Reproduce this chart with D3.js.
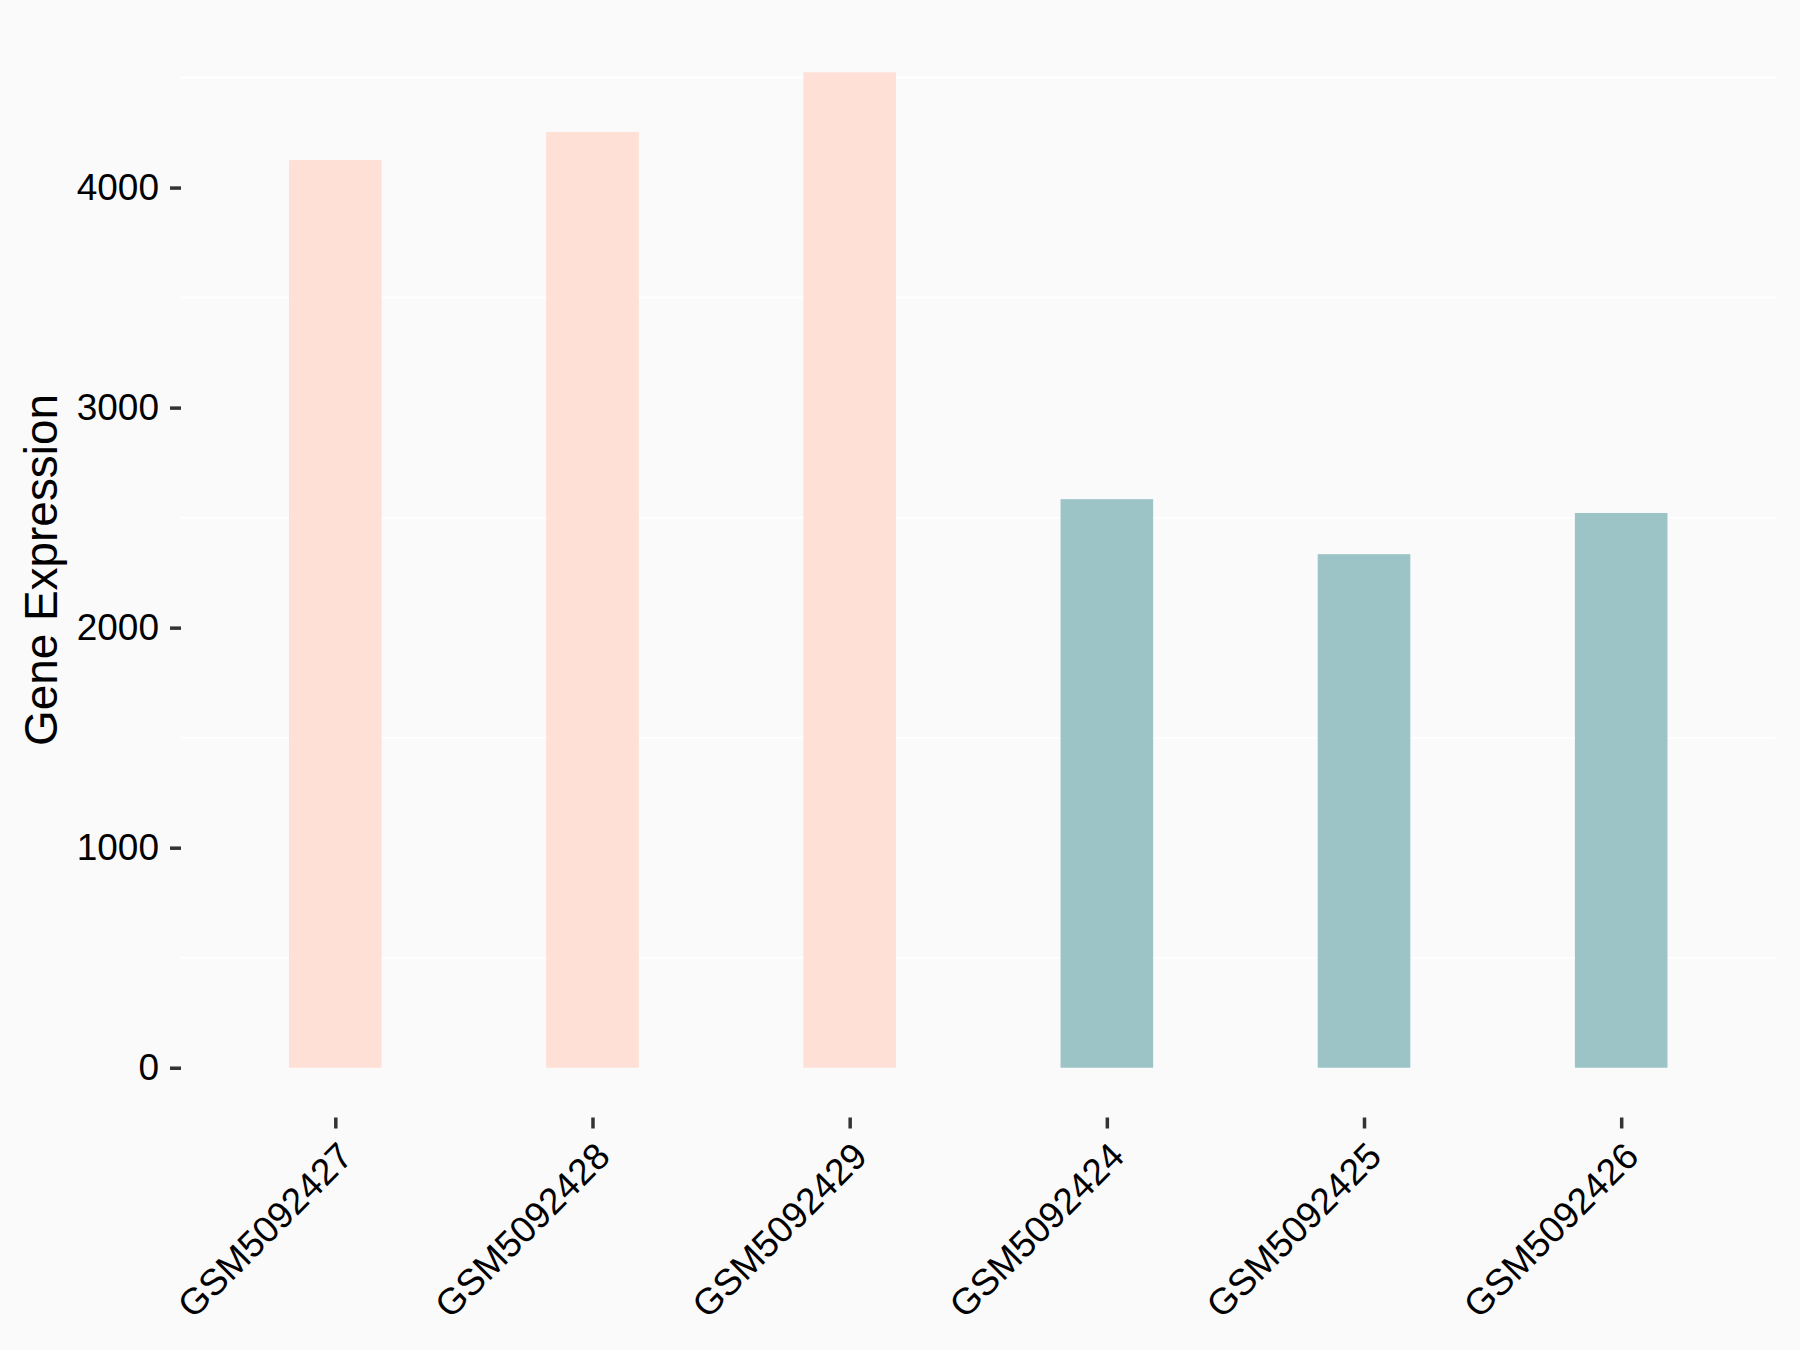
<!DOCTYPE html>
<html>
<head>
<meta charset="utf-8">
<script src="https://cdn.jsdelivr.net/npm/d3@7"></script>
<style>
  html, body { margin: 0; padding: 0; background: #FAFAFA; }
  svg { display: block; }
  text { font-family: "Liberation Sans", Arial, sans-serif; }
</style>
</head>
<body>
<div id="chart-area"></div>
<script>
// data
var samples = ['GSM5092427', 'GSM5092428', 'GSM5092429', 'GSM5092424', 'GSM5092425', 'GSM5092426'];
var expression = [4125, 4253, 4524, 2584, 2334, 2521];
var group = ['A', 'A', 'A', 'B', 'B', 'B'];
var yTicks = [0, 1000, 2000, 3000, 4000];
var yMinor = [500, 1500, 2500, 3500, 4500];

var W = 1800, H = 1350;
var panel = { left: 181, right: 1775.5, top: 22.5, bottom: 1117.5 };

var svg = d3.select('#chart-area').append('svg')
    .attr('width', W)
    .attr('height', H);

svg.append('rect')
    .attr('width', W)
    .attr('height', H)
    .attr('fill', '#FAFAFA');

var data = samples.map(function(s, i) {
  return { sample: s, value: expression[i], group: group[i] };
});

// x scale, like ggplot discrete (0.6 step on each side)
var x = d3.scalePoint()
    .domain(samples)
    .range([panel.left, panel.right])
    .padding(0.6);

var barW = x.step() * 0.36;

// y scale with 5% expansion
var maxV = d3.max(expression);
var pad = maxV * 0.05;
var y = d3.scaleLinear()
    .domain([0 - pad, maxV + pad])
    .range([panel.bottom, panel.top]);

var color = d3.scaleOrdinal()
    .domain(['A', 'B'])
    .range(['#FEE0D6', '#9CC4C7']);

// minor grid lines
svg.append('g')
    .selectAll('line')
    .data(yMinor)
    .enter()
    .append('line')
    .attr('x1', panel.left)
    .attr('x2', panel.right)
    .attr('y1', function(d){ return y(d); })
    .attr('y2', function(d){ return y(d); })
    .attr('stroke', '#FFFFFF')
    .attr('stroke-width', 2);

// bars
svg.append('g')
    .selectAll('rect')
    .data(data)
    .enter()
    .append('rect')
    .attr('x', function(d){ return x(d.sample) - barW / 2; })
    .attr('width', barW)
    .attr('y', function(d){ return y(d.value); })
    .attr('height', function(d){ return y(0) - y(d.value); })
    .attr('fill', function(d){ return color(d.group); });

// y axis
var yAxisCall = d3.axisLeft(y)
    .tickValues(yTicks)
    .tickSize(11)
    .tickPadding(11)
    .tickFormat(d3.format('d'));

var yaxisGroup = svg.append('g')
    .attr('class', 'y-axis')
    .attr('transform', 'translate(' + panel.left + ',0)')
    .call(yAxisCall);

yaxisGroup.select('.domain').remove();
yaxisGroup.selectAll('line')
    .attr('stroke', '#333333')
    .attr('stroke-width', 3.5);
yaxisGroup.selectAll('text')
    .attr('font-size', '37px')
    .attr('fill', '#000000')
    .attr('font-family', '"Liberation Sans", Arial, sans-serif');

// x axis
var xAxisCall = d3.axisBottom(x)
    .tickSize(11)
    .tickPadding(0);

var xaxisGroup = svg.append('g')
    .attr('class', 'x-axis')
    .attr('transform', 'translate(0,' + panel.bottom + ')')
    .call(xAxisCall);

xaxisGroup.select('.domain').remove();
xaxisGroup.selectAll('line')
    .attr('stroke', '#333333')
    .attr('stroke-width', 3.5);
xaxisGroup.selectAll('text')
    .attr('font-size', '37px')
    .attr('fill', '#000000')
    .attr('font-family', '"Liberation Sans", Arial, sans-serif')
    .attr('text-anchor', 'end')
    .attr('y', 0)
    .attr('dy', 0)
    .attr('transform', 'translate(19,41) rotate(-45)');

// y label
svg.append('text')
    .attr('x', -(panel.top + panel.bottom) / 2)
    .attr('y', 57)
    .attr('font-size', '45.9px')
    .attr('text-anchor', 'middle')
    .attr('fill', '#000000')
    .attr('transform', 'rotate(-90)')
    .text('Gene Expression');
</script>
</body>
</html>
